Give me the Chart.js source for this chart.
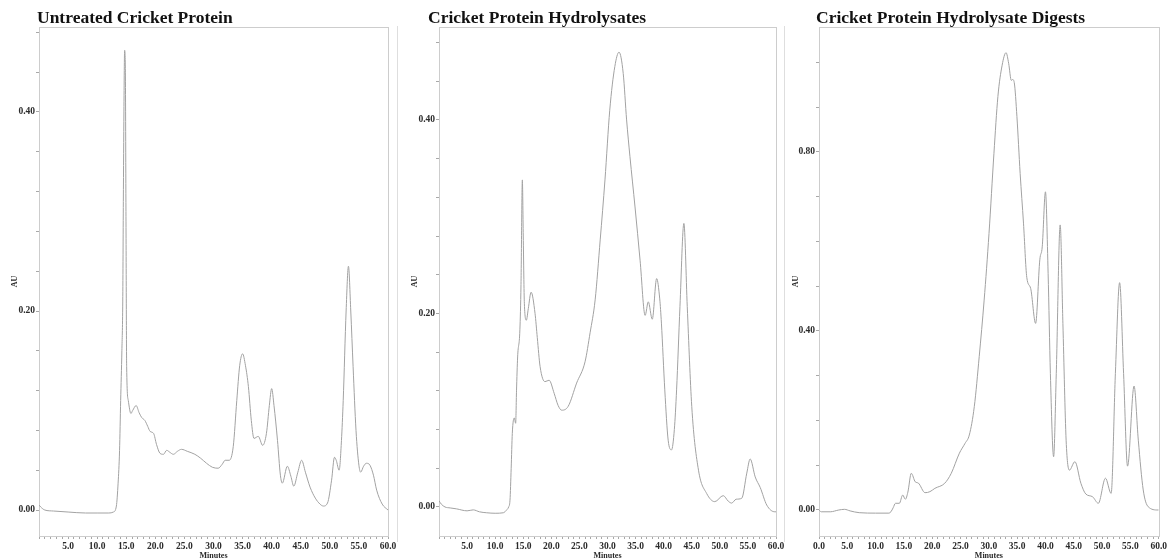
<!DOCTYPE html>
<html>
<head>
<meta charset="utf-8">
<script src="https://cdn.jsdelivr.net/npm/chart.js@4.4.1/dist/chart.umd.min.js"></script>
<style>
  html, body { margin: 0; padding: 0; background: #fff; }
  #wrap { position: relative; width: 1169px; height: 560px; overflow: hidden; background: #fff; }
  #wrap canvas { position: absolute; top: 0; }
  .sep { position: absolute; top: 26px; height: 516px; width: 1px; background: #dedede; }
</style>
</head>
<body>
<div id="wrap">
  <div class="sep" style="left:397px"></div>
  <div class="sep" style="left:784px"></div>
  <canvas id="c1" width="402" height="560" style="left:0px;width:402px;height:560px"></canvas>
  <canvas id="c2" width="392" height="560" style="left:397px;width:392px;height:560px"></canvas>
  <canvas id="c3" width="385" height="560" style="left:784px;width:385px;height:560px"></canvas>
</div>
<script>
// ---- Panel titles ----
const titles = [
  'Untreated Cricket Protein',
  'Cricket Protein Hydrolysates',
  'Cricket Protein Hydrolysate Digests'
];

// ---- Axis ticks ----
const xMajor = [0, 5, 10, 15, 20, 25, 30, 35, 40, 45, 50, 55, 60];
const xMinorStep = 1;
const yTicks1 = [0.00, 0.04, 0.08, 0.12, 0.16, 0.20, 0.24, 0.28, 0.32, 0.36, 0.40, 0.44, 0.48];
const yMajor1 = [0.00, 0.20, 0.40];
const yTicks2 = [0.00, 0.04, 0.08, 0.12, 0.16, 0.20, 0.24, 0.28, 0.32, 0.36, 0.40, 0.44, 0.48];
const yMajor2 = [0.00, 0.20, 0.40];
const yTicks3 = [0.0, 0.1, 0.2, 0.3, 0.4, 0.5, 0.6, 0.7, 0.8, 0.9, 1.0];
const yMajor3 = [0.00, 0.40, 0.80];

// ---- Untreated cricket protein (retention time, min / absorbance, AU) ----
const minutes1 = [0.0, 0.3, 1.0, 2.5, 5.0, 8.0, 10.0, 12.0, 12.8, 13.3, 13.6, 13.85, 14.04, 14.25, 14.4, 14.5,
  14.6, 14.72, 14.85, 14.95, 15.07, 15.35, 15.8, 16.1, 16.7, 17.2, 17.65, 18.2, 18.7, 19.1, 19.7, 20.2, 20.8,
  21.4, 21.95, 22.5, 23.1, 23.8, 24.5, 25.5, 26.8, 27.8, 28.8, 29.8, 30.8, 31.5, 32.0, 32.7, 33.4, 34.0, 34.5,
  35.0, 35.5, 36.0, 36.5, 36.96, 37.7, 38.45, 39.1, 39.6, 40.0, 40.4, 41.0, 41.5, 41.83, 42.7, 43.3, 43.8,
  44.5, 45.15, 45.8, 46.6, 47.5, 48.3, 48.9, 49.6, 50.3, 50.8, 51.1, 51.6, 52.0, 52.3, 52.8, 53.2, 53.6, 54.0,
  54.5, 55.0, 55.3, 55.8, 56.3, 56.9, 57.5, 58.05, 59.0, 60.0];
const au1 = [0.005, 0.003, 0.000, -0.001, -0.002, -0.003, -0.003, -0.003, -0.002, 0.004, 0.027, 0.06, 0.11, 0.16, 0.21, 0.31,
  0.40, 0.462, 0.44, 0.30, 0.144, 0.11, 0.097, 0.100, 0.105, 0.098, 0.093, 0.090, 0.084, 0.079, 0.077, 0.066, 0.057,
  0.056, 0.060, 0.058, 0.056, 0.059, 0.061, 0.059, 0.056, 0.052, 0.047, 0.043, 0.042, 0.046, 0.050, 0.050, 0.064, 0.110, 0.145,
  0.157, 0.145, 0.124, 0.090, 0.072, 0.074, 0.065, 0.077, 0.105, 0.122, 0.105, 0.070, 0.035, 0.027, 0.044, 0.034, 0.024,
  0.038, 0.050, 0.038, 0.023, 0.012, 0.006, 0.004, 0.007, 0.030, 0.053, 0.050, 0.040, 0.070, 0.110, 0.200, 0.245, 0.200, 0.144,
  0.080, 0.045, 0.038, 0.044, 0.047, 0.045, 0.035, 0.020, 0.006, 0.000];

// ---- Cricket protein hydrolysates ----
const minutes2 = [0.0, 0.4, 1.07, 2.0, 3.15, 5.0, 6.1, 7.2, 8.5, 10.0, 11.45, 12.05, 12.4, 12.64, 12.85, 13.05, 13.4,
  13.65, 13.8, 14.0, 14.4, 14.6, 14.84, 15.0, 15.2, 15.55, 15.9, 16.4, 17.1, 17.5, 18.0, 18.87, 19.6, 20.5, 21.2,
  21.85, 23.0, 24.5, 26.0, 26.9, 27.8, 28.7, 29.55, 30.4, 31.3, 32.05, 32.8, 33.4, 34.0, 34.9, 35.8, 36.7, 37.26,
  37.97, 38.75, 39.3, 39.6, 40.2, 40.8, 41.4, 41.9, 42.3, 42.9, 43.6, 44.2, 45.0, 46.2, 47.65, 49.1, 50.6, 51.5,
  52.1, 52.9, 53.9, 54.8, 55.4, 56.3, 57.2, 58.35, 59.8, 60.0];
const au2 = [0.0065, 0.003, 0.000, -0.001, -0.002, -0.004, -0.003, -0.005, -0.006, -0.0065, -0.006, -0.003, 0.000, 0.007, 0.040, 0.076, 0.092,
  0.0865, 0.120, 0.155, 0.183, 0.230, 0.338, 0.280, 0.210, 0.193, 0.205, 0.222, 0.200, 0.175, 0.145, 0.1295, 0.131, 0.1175, 0.105,
  0.100, 0.104, 0.128, 0.150, 0.180, 0.214, 0.276, 0.338, 0.410, 0.455, 0.470, 0.448, 0.400, 0.362, 0.310, 0.255, 0.198, 0.212,
  0.194, 0.236, 0.215, 0.190, 0.121, 0.069, 0.059, 0.080, 0.121, 0.207, 0.293, 0.207, 0.104, 0.038, 0.014, 0.0055, 0.0117, 0.006,
  0.004, 0.008, 0.009, 0.035, 0.0496, 0.031, 0.020, 0.002, -0.005, -0.005];

// ---- Cricket protein hydrolysate digests ----
const minutes3 = [0.0, 0.4, 2.0, 3.5, 4.5, 5.5, 7.1, 10.0, 12.35, 12.7, 13.1, 13.51, 14.2, 14.78, 15.25, 15.7, 16.3,
  17.0, 17.56, 18.73, 19.6, 20.47, 22.2, 23.36, 24.8, 25.8, 26.55, 27.43, 28.3, 29.17, 30.03, 30.9, 31.6, 32.35,
  33.04, 33.5, 33.97, 34.2, 34.49, 34.96, 35.53, 36.12, 36.7, 37.39, 38.26, 39.0, 39.43, 40.0, 40.47, 40.87, 41.44,
  41.91, 42.6, 43.08, 43.65, 44.23, 45.2, 46.26, 47.13, 48.3, 49.34, 50.6, 51.6, 52.35, 53.1, 53.8, 54.5, 55.65,
  56.4, 57.27, 58.14, 59.88, 60.0];
const au3 = [0.000, -0.004, -0.004, 0.000, 0.0015, -0.002, -0.006, -0.007, -0.007, -0.004, 0.005, 0.015, 0.015, 0.0335, 0.024, 0.040, 0.082,
  0.063, 0.060, 0.0387, 0.041, 0.0484, 0.0596, 0.082, 0.127, 0.149, 0.1676, 0.231, 0.343, 0.469, 0.618, 0.797, 0.924, 0.994,
  1.022, 0.998, 0.960, 0.962, 0.955, 0.879, 0.752, 0.641, 0.520, 0.495, 0.417, 0.559, 0.588, 0.711, 0.529, 0.305, 0.119,
  0.305, 0.637, 0.417, 0.156, 0.089, 0.108, 0.0596, 0.0357, 0.0298, 0.015, 0.071, 0.037, 0.305, 0.508, 0.305, 0.098, 0.277,
  0.156, 0.0447, 0.0074, 0.000, 0.000];

// Draws the bold panel heading above each plot
const panelTitle = {
  id: 'panelTitle',
  afterDraw(chart, args, opts) {
    const ctx = chart.ctx;
    ctx.save();
    ctx.font = 'bold 17.5px "Liberation Serif", "Times New Roman", serif';
    ctx.fillStyle = '#111';
    ctx.textBaseline = 'alphabetic';
    ctx.textAlign = 'left';
    ctx.fillText(opts.text, opts.x, opts.y);
    ctx.restore();
  }
};

// Light frame around the plotting area
const plotFrame = {
  id: 'plotFrame',
  beforeDatasetsDraw(chart) {
    const a = chart.chartArea, ctx = chart.ctx;
    ctx.save();
    ctx.strokeStyle = '#cdcdcd';
    ctx.lineWidth = 1;
    ctx.strokeRect(Math.round(a.left) + 0.5, Math.round(a.top) + 0.5,
      Math.round(a.right - a.left), Math.round(a.bottom - a.top));
    ctx.restore();
  }
};
Chart.register(panelTitle, plotFrame);

const serif = '"Liberation Serif", "Times New Roman", serif';

function xTickValues() {
  const out = [];
  for (let v = xMajor[0]; v <= xMajor[xMajor.length - 1] + 1e-9; v += xMinorStep) out.push(v);
  return out;
}

function makePanel(id, cfg) {
  const points = cfg.minutes.map((t, i) => ({ x: t, y: cfg.au[i] }));
  return new Chart(document.getElementById(id), {
    type: 'line',
    data: {
      datasets: [{
        data: points,
        borderColor: '#a2a2a2',
        borderWidth: 1,
        pointRadius: 0,
        fill: false,
        cubicInterpolationMode: 'monotone'
      }]
    },
    options: {
      responsive: false,
      animation: false,
      events: [],
      layout: { padding: { left: 0, right: cfg.padRight, top: 27, bottom: 0 } },
      plugins: {
        legend: { display: false },
        tooltip: { enabled: false },
        panelTitle: { text: cfg.title, x: cfg.titleX, y: 23 }
      },
      scales: {
        x: {
          type: 'linear',
          min: 0,
          max: 60,
          afterFit(scale) { scale.height = 24; },
          afterBuildTicks(scale) { scale.ticks = xTickValues().map(v => ({ value: v })); },
          grid: { display: true, drawOnChartArea: false, drawTicks: true, tickLength: 3, tickColor: '#a8a8a8' },
          border: { display: true, color: '#a8a8a8' },
          ticks: {
            autoSkip: false,
            maxRotation: 0,
            padding: 2,
            color: '#2a2a2a',
            font: { family: serif, size: 9.5, weight: 'bold', lineHeight: 1.1 },
            callback(v) {
              if (!xMajor.includes(v)) return '';
              if (v === 0 && !cfg.showZero) return '';
              return v.toFixed(1);
            }
          },
          title: { display: true, text: 'Minutes', color: '#2a2a2a', padding: 0,
                   font: { family: serif, size: 8, weight: 'bold', lineHeight: 0.9 } }
        },
        y: {
          type: 'linear',
          min: cfg.yMin,
          max: cfg.yMax,
          afterFit(scale) { scale.width = cfg.axisWidth; },
          afterBuildTicks(scale) { scale.ticks = cfg.yTicks.map(v => ({ value: v })); },
          grid: { display: true, drawOnChartArea: false, drawTicks: true, tickLength: 3, tickColor: '#a8a8a8' },
          border: { display: true, color: '#a8a8a8' },
          ticks: {
            autoSkip: false,
            padding: 1,
            color: '#2a2a2a',
            font: { family: serif, size: 9.5, weight: 'bold' },
            callback(v) {
              return cfg.yMajor.some(m => Math.abs(m - v) < 1e-9) ? v.toFixed(2) : '';
            }
          },
          title: { display: true, text: 'AU', color: '#2a2a2a', padding: { top: cfg.auPad, bottom: 0 },
                   font: { family: serif, size: 8, weight: 'bold' } }
        }
      }
    }
  });
}

makePanel('c1', {
  title: titles[0], titleX: 37, minutes: minutes1, au: au1,
  yTicks: yTicks1, yMajor: yMajor1, yMin: -0.0261, yMax: 0.4854,
  axisWidth: 39, padRight: 14, auPad: 10, showZero: false
});
makePanel('c2', {
  title: titles[1], titleX: 31, minutes: minutes2, au: au2,
  yTicks: yTicks2, yMajor: yMajor2, yMin: -0.030, yMax: 0.496,
  axisWidth: 42, padRight: 13, auPad: 13, showZero: false
});
makePanel('c3', {
  title: titles[2], titleX: 32, minutes: minutes3, au: au3,
  yTicks: yTicks3, yMajor: yMajor3, yMin: -0.0581, yMax: 1.0793,
  axisWidth: 35, padRight: 5, auPad: 7, showZero: true
});
</script>
</body>
</html>
